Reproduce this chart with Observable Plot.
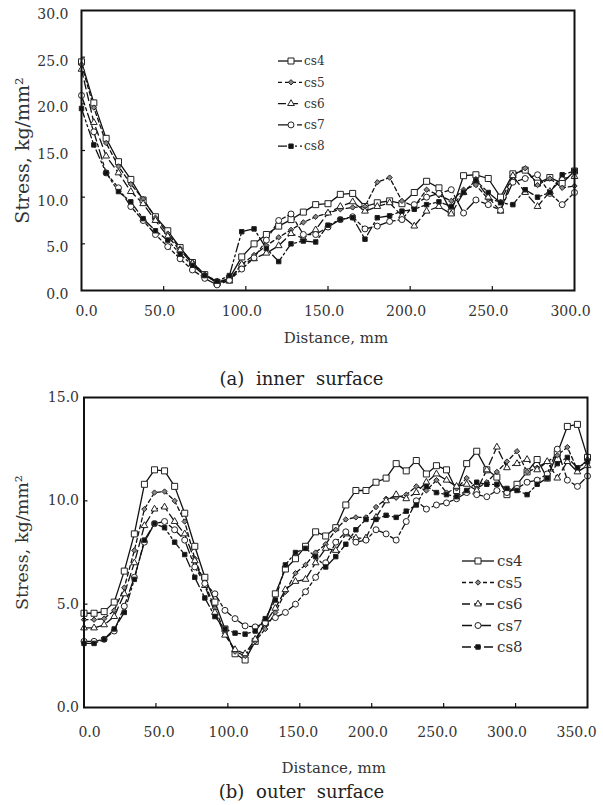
<!DOCTYPE html>
<html><head><meta charset="utf-8">
<script src="https://cdn.jsdelivr.net/npm/d3@7"></script>
<script src="https://cdn.jsdelivr.net/npm/@observablehq/plot@0.6"></script>
<style>
html,body{margin:0;padding:0;background:#fff;}
#page{position:relative;width:603px;height:805px;overflow:hidden;font-family:"DejaVu Serif",serif;background:#fff;}
#page svg{position:absolute;left:0;}
.caption{position:absolute;left:0;width:603px;text-align:center;font-size:18px;color:#222;word-spacing:6px;line-height:22px;font-family:"DejaVu Serif",serif;}
</style></head><body><div id="page"></div>
<script>
// ---------- data ----------
const seriesNames = ["cs4", "cs5", "cs6", "cs7", "cs8"];

const topDistance = [0, 7.5, 15, 22.5, 30, 37.5, 45, 52.5, 60, 67.5, 75, 82.5, 90, 97.5, 105, 112.5, 120, 127.5, 135, 142.5, 150, 157.5, 165, 172.5, 180, 187.5, 195, 202.5, 210, 217.5, 225, 232.5, 240, 247.5, 255, 262.5, 270, 277.5, 285, 292.5, 300];
const topCs4 = [24.5, 20.1, 16.3, 13.8, 11.9, 9.7, 7.9, 6.4, 4.6, 3.0, 1.7, 0.8, 1.3, 3.6, 5.0, 6.0, 6.9, 7.6, 8.4, 9.2, 9.3, 10.3, 10.4, 9.0, 9.4, 9.6, 9.3, 10.5, 11.7, 11.0, 8.4, 12.3, 12.4, 12.0, 10.0, 12.5, 12.9, 11.5, 12.1, 11.5, 12.8];
const topCs5 = [24.2, 19.6, 15.8, 13.3, 11.4, 9.8, 7.8, 6.1, 4.5, 3.0, 1.7, 1.0, 1.2, 2.8, 3.8, 4.8, 5.7, 6.5, 7.3, 7.9, 8.3, 8.7, 8.9, 9.0, 11.6, 12.1, 9.6, 9.0, 10.8, 10.2, 9.6, 10.8, 11.3, 9.8, 9.5, 12.3, 13.1, 11.3, 12.0, 11.0, 11.2];
const topCs6 = [23.7, 18.0, 14.4, 12.6, 10.6, 9.3, 7.5, 5.8, 4.3, 2.9, 1.6, 0.9, 1.0, 2.8, 3.4, 4.0, 4.8, 6.1, 5.6, 6.5, 8.3, 9.0, 9.5, 8.5, 9.0, 9.4, 8.0, 6.9, 8.5, 9.0, 8.2, 10.5, 11.8, 10.0, 8.5, 12.3, 10.5, 9.0, 10.6, 12.0, 12.2];
const topCs7 = [20.9, 17.0, 12.6, 11.0, 9.0, 7.5, 6.0, 4.7, 3.4, 2.2, 1.3, 0.6, 1.1, 2.3, 3.5, 5.4, 7.5, 8.2, 6.0, 6.0, 6.8, 7.6, 7.9, 6.6, 6.9, 7.4, 7.6, 9.2, 10.0, 10.4, 10.8, 8.3, 9.7, 9.2, 8.6, 11.6, 12.0, 12.4, 10.4, 9.2, 10.5];
const topCs8 = [19.5, 15.6, 12.6, 10.6, 9.5, 7.7, 6.4, 5.4, 3.9, 2.7, 1.6, 1.0, 1.6, 6.3, 6.6, 4.5, 3.1, 5.0, 5.3, 5.2, 7.0, 7.6, 7.8, 5.5, 7.8, 8.0, 8.5, 8.7, 9.2, 9.5, 9.0, 10.5, 11.8, 10.5, 9.4, 9.2, 10.8, 10.0, 10.5, 12.4, 12.8];

const botDistance = [0, 7, 14, 21, 28, 35, 42, 49, 56, 63, 70, 77, 84, 91, 98, 105, 112, 119, 126, 133, 140, 147, 154, 161, 168, 175, 182, 189, 196, 203, 210, 217, 224, 231, 238, 245, 252, 259, 266, 273, 280, 287, 294, 301, 308, 315, 322, 329, 336, 343, 350];
const botCs4 = [4.56, 4.56, 4.64, 5.1, 6.6, 8.4, 10.8, 11.5, 11.45, 10.7, 9.4, 7.8, 6.3, 5.1, 3.8, 2.6, 2.3, 3.2, 4.1, 5.5, 6.7, 7.2, 7.8, 8.5, 8.3, 8.7, 9.8, 10.5, 10.5, 10.9, 11.1, 11.8, 11.45, 11.95, 11.3, 11.7, 11.5, 10.5, 11.8, 12.4, 11.5, 11.15, 10.3, 10.8, 11.4, 12.0, 11.1, 12.3, 13.6, 13.7, 12.1];
const botCs5 = [4.25, 4.25, 4.3, 4.7, 5.8, 7.6, 9.6, 10.4, 10.45, 10.0, 9.0, 7.2, 6.0, 4.8, 3.6, 2.7, 2.5, 3.2, 3.8, 4.6, 5.6, 6.5, 6.9, 7.5, 7.9, 8.6, 9.1, 9.2, 9.2, 9.7, 10.1, 10.15, 10.3, 10.7, 10.5, 11.0, 10.4, 10.6, 11.1, 10.6, 10.9, 11.4, 11.9, 12.4, 11.4, 11.6, 11.9, 12.2, 12.6, 11.5, 12.0];
const botCs6 = [3.85, 3.85, 4.0, 4.4, 5.5, 7.0, 8.8, 9.6, 9.7, 9.0, 8.4, 7.1, 5.9, 4.6, 3.5, 2.8, 2.6, 3.3, 4.1, 4.8, 5.7, 6.1, 6.2, 7.0, 7.7, 7.6, 8.4, 8.2, 8.2, 9.2, 10.0, 10.3, 10.1, 10.4, 10.9, 11.3, 11.0, 10.7, 10.8, 10.5, 11.5, 12.6, 11.6, 11.8, 12.0, 11.5, 11.9, 11.1, 11.9, 11.4, 11.7];
const botCs7 = [3.2, 3.2, 3.3, 3.7, 4.9, 6.3, 8.0, 8.9, 9.0, 8.6, 8.1, 6.8, 6.0, 5.5, 4.7, 4.3, 3.95, 3.9, 4.1, 4.35, 4.6, 5.0, 5.6, 6.3, 7.0, 8.0, 8.5, 8.0, 8.1, 8.6, 8.4, 8.1, 9.0, 10.0, 9.6, 9.8, 9.9, 10.1, 10.4, 10.3, 10.2, 10.5, 10.4, 10.6, 10.9, 11.0, 11.3, 12.5, 11.0, 10.7, 11.2];
const botCs8 = [3.1, 3.1, 3.3, 3.8, 4.6, 6.2, 8.1, 8.9, 8.7, 8.0, 7.4, 6.3, 5.3, 4.4, 3.8, 3.6, 3.55, 3.7, 4.3, 5.2, 6.9, 7.5, 7.7, 7.3, 6.8, 7.3, 7.9, 8.6, 9.1, 9.1, 9.3, 9.2, 9.5, 9.8, 10.7, 10.4, 10.3, 10.2, 10.5, 10.9, 10.8, 10.8, 10.6, 10.5, 10.3, 10.8, 11.1, 11.8, 12.1, 11.6, 11.9];

const xTicksTop = [0, 50, 100, 150, 200, 250, 300];
const yTicksTop = [0, 5, 10, 15, 20, 25, 30];
const xTicksBot = [0, 50, 100, 150, 200, 250, 300, 350];
const yTicksBot = [0, 5, 10, 15];

const xTitle = "Distance, mm";
const yTitle = "Stress, kg/mm\u00B2";
const captionTop = "(a) inner surface";
const captionBot = "(b) outer surface";

// ---------- styles ----------
const styles = {
  cs4: {dash: null, symbol: "square", r: 3.4, fill: "white"},
  cs5: {dash: "4,3", symbol: "diamond2", r: 2.4, fill: "#888"},
  cs6: {dash: "8,4", symbol: "triangle", r: 2.5, fill: "white"},
  cs7: {dash: "10,3,3,3", symbol: "circle", r: 3.0, fill: "white"},
  cs8: {dash: "9,3,2,3,2,3", symbol: "square", r: 2.5, fill: "#111"}
};
const FONT = "DejaVu Serif";

function tidy(dist, arrs) {
  return seriesNames.flatMap((n, k) => dist.map((d, i) => ({series: n, d, s: arrs[k][i]})));
}

function panel(o) {
  const W = 603;
  const plotW = W - o.ml - o.mr, plotH = o.h - o.mt - o.mb;
  const xmax = o.xDomain[1], ymax = o.yDomain[1];
  const fmt = d => d.toFixed(1);
  const marks = [];
  for (const n of seriesNames) {
    const st = styles[n];
    marks.push(Plot.line(o.data.filter(r => r.series === n), {x: "d", y: "s", stroke: "#111", strokeWidth: 1.3, strokeDasharray: st.dash}));
  }
  for (const n of seriesNames) {
    const st = styles[n];
    marks.push(Plot.dot(o.data.filter(r => r.series === n), {x: "d", y: "s", symbol: st.symbol, r: st.r, fill: st.fill, stroke: "#222", strokeWidth: 1}));
  }
  marks.push(Plot.frame({stroke: "#111", strokeWidth: 2}));
  // inward ticks
  marks.push(Plot.ruleX(o.xTicks.slice(1, -1), {x: d => d, y1: 0, y2: ymax * 4 / plotH, stroke: "#111", strokeWidth: 1.2}));
  marks.push(Plot.ruleY(o.yTicks.slice(1, -1), {y: d => d, x1: 0, x2: xmax * 4 / plotW, stroke: "#111", strokeWidth: 1.2}));
  // tick labels
  o.xTicks.forEach(t => marks.push(Plot.text([t], {x: d => d, frameAnchor: "bottom", dy: o.xLabelDy, dx: o.xLabelDx(t), text: fmt, textAnchor: "middle", lineAnchor: "top", fontSize: 14, fill: "#333"})));
  marks.push(Plot.text(o.yTicks, {y: d => d, frameAnchor: "left", dx: o.yLabelDx, dy: o.yLabelDy, textAnchor: "end", lineAnchor: "middle", text: fmt, fontSize: 14, fill: "#333"}));
  // titles
  marks.push(Plot.text([xTitle], {frameAnchor: "bottom", dy: o.xTitleDy, dx: o.xTitleDx, textAnchor: "middle", lineAnchor: "middle", fontSize: 15, fill: "#333"}));
  marks.push(Plot.text([yTitle], {frameAnchor: "left", dx: o.yTitleDx, dy: o.yTitleDy, rotate: -90, textAnchor: "middle", lineAnchor: "middle", fontSize: o.yTitleSize, fill: "#333"}));
  const svg = Plot.plot({
    width: W, height: o.h,
    marginLeft: o.ml, marginRight: o.mr, marginTop: o.mt, marginBottom: o.mb,
    x: {domain: o.xDomain, axis: null},
    y: {domain: o.yDomain, axis: null},
    style: {fontFamily: FONT, background: "white", overflow: "visible"},
    marks
  });
  svg.style.top = o.top + "px";
  return svg;
}

const page = document.getElementById("page");

page.appendChild(panel({
  top: 0, h: 350, ml: 81, mr: 29, mt: 10, mb: 60,
  xDomain: [0, 300], yDomain: [0, 30],
  xTicks: xTicksTop, yTicks: yTicksTop,
  data: tidy(topDistance, [topCs4, topCs5, topCs6, topCs7, topCs8]),
  xLabelDy: 16, xLabelDx: t => (t === 0 ? 5 : -4),
  yLabelDx: -13, yLabelDy: 4,
  xTitleDy: 48, xTitleDx: 8,
  yTitleDx: -59, yTitleDy: 0, yTitleSize: 19
}));

page.appendChild(panel({
  top: 388, h: 392, ml: 83.5, mr: 16, mt: 9, mb: 73,
  xDomain: [0, 350], yDomain: [0, 15],
  xTicks: xTicksBot, yTicks: yTicksBot,
  data: tidy(botDistance, [botCs4, botCs5, botCs6, botCs7, botCs8]),
  xLabelDy: 20, xLabelDx: t => 5.5 - 0.047 * t,
  yLabelDx: -5, yLabelDy: 0,
  xTitleDy: 61, xTitleDx: -2,
  yTitleDx: -62, yTitleDy: -10, yTitleSize: 17.5
}));

// captions
for (const [text, top] of [[captionTop, 368], [captionBot, 781]]) {
  const div = document.createElement("div");
  div.className = "caption";
  div.style.top = top + "px";
  div.textContent = text;
  page.appendChild(div);
}

// legends (overlay)
const symbolMap = {square: d3.symbolSquare, diamond2: d3.symbolDiamond2, triangle: d3.symbolTriangle, circle: d3.symbolCircle};
const overlay = d3.create("svg").attr("width", 603).attr("height", 805)
  .style("position", "absolute").style("left", "0px").style("top", "0px").style("pointer-events", "none");
const legends = [
  {x0: 278, x1: 302, mx: 291, tx: 304, y0: 61, step: 21.3, fontSize: 12},
  {x0: 462, x1: 494, mx: 478, tx: 497, y0: 561, step: 21.5, fontSize: 15}
];
for (const L of legends) {
  seriesNames.forEach((n, i) => {
    const st = styles[n];
    const y = L.y0 + i * L.step;
    overlay.append("line").attr("x1", L.x0).attr("x2", L.x1).attr("y1", y).attr("y2", y)
      .attr("stroke", "#111").attr("stroke-width", 1.3).attr("stroke-dasharray", st.dash);
    overlay.append("path").attr("transform", `translate(${L.mx},${y})`)
      .attr("d", d3.symbol().type(symbolMap[st.symbol]).size(Math.PI * st.r * st.r)())
      .attr("fill", st.fill).attr("stroke", "#222").attr("stroke-width", 1);
    overlay.append("text").attr("x", L.tx).attr("y", y).attr("dy", "0.35em")
      .attr("font-family", FONT).attr("font-size", L.fontSize).attr("fill", "#333").text(n);
  });
}
page.appendChild(overlay.node());
</script>
</body></html>
